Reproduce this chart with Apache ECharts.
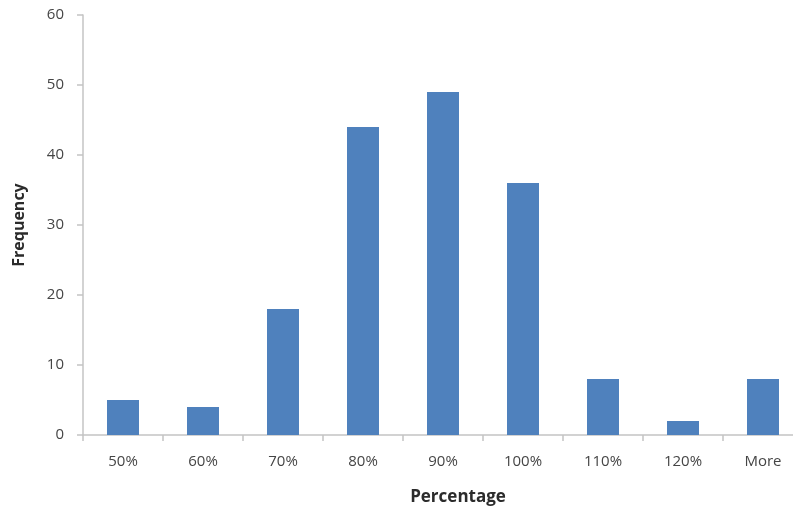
<!DOCTYPE html>
<html>
<head>
<meta charset="utf-8">
<script src="https://cdn.jsdelivr.net/npm/echarts@6/dist/echarts.min.js"></script>
<style>
  html, body { margin: 0; padding: 0; background: #fff; }
  #chart { width: 793px; height: 512px; }
</style>
</head>
<body>
<div id="chart"></div>
<script>
// Histogram bins and their counts
const categories = ['50%', '60%', '70%', '80%', '90%', '100%', '110%', '120%', 'More'];
const frequency = [5, 4, 18, 44, 49, 36, 8, 2, 8];
const yTicks = { min: 0, max: 60, interval: 10 };

const labelFont = '"Open Sans", "Liberation Sans", sans-serif';
const axisGray = '#C4C4C4';

const chart = echarts.init(document.getElementById('chart'), null, { renderer: 'canvas' });
chart.setOption({
  animation: false,
  backgroundColor: '#ffffff',
  // plot area runs slightly past the right edge of the canvas
  grid: { left: 83, top: 15, width: 720, height: 420, containLabel: false, outerBoundsMode: 'none' },
  xAxis: {
    type: 'category',
    data: categories,
    name: 'Percentage',
    nameLocation: 'middle',
    nameGap: 54,
    nameTextStyle: { fontFamily: labelFont, fontWeight: 'bold', fontSize: 17, color: '#2b2b2b', padding: [0, 0, 0, 30] },
    axisLine: { lineStyle: { color: axisGray, width: 1.5 } },
    axisTick: { show: true, length: 6, alignWithLabel: false, lineStyle: { color: axisGray, width: 1.5 } },
    axisLabel: { fontFamily: labelFont, fontSize: 15, color: '#454545', margin: 19 }
  },
  yAxis: {
    type: 'value',
    min: yTicks.min,
    max: yTicks.max,
    interval: yTicks.interval,
    name: 'Frequency',
    nameLocation: 'middle',
    nameGap: 56,
    nameRotate: 90,
    nameTextStyle: { fontFamily: labelFont, fontWeight: 'bold', fontSize: 16, color: '#2b2b2b' },
    axisLine: { show: true, lineStyle: { color: axisGray, width: 1.5 } },
    axisTick: { show: true, length: 6, lineStyle: { color: axisGray, width: 1.5 } },
    splitLine: { show: false },
    axisLabel: { fontFamily: labelFont, fontSize: 15, color: '#454545', margin: 19 }
  },
  series: [{
    type: 'bar',
    data: frequency,
    barCategoryGap: '60%',
    itemStyle: { color: '#4F81BD' }
  }]
});
</script>
</body>
</html>
